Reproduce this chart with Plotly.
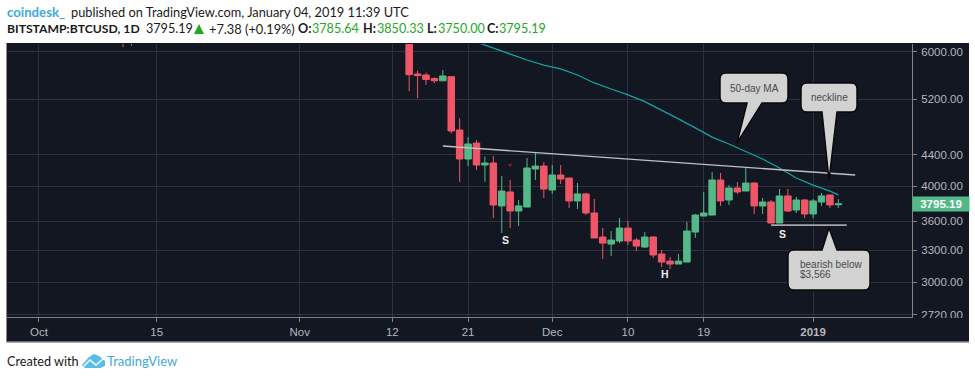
import math
import plotly.graph_objects as go

W, H = 975, 379
L, R, T, B = 7, 912, 44, 317

dates = ["2018-10-11", "2018-10-12",
         "2018-11-14", "2018-11-15", "2018-11-16", "2018-11-17", "2018-11-18", "2018-11-19", "2018-11-20",
         "2018-11-21", "2018-11-22", "2018-11-23", "2018-11-24", "2018-11-25", "2018-11-26", "2018-11-27",
         "2018-11-28", "2018-11-29", "2018-11-30", "2018-12-01", "2018-12-02", "2018-12-03", "2018-12-04",
         "2018-12-05", "2018-12-06", "2018-12-07", "2018-12-08", "2018-12-09", "2018-12-10", "2018-12-11",
         "2018-12-12", "2018-12-13", "2018-12-14", "2018-12-15", "2018-12-16", "2018-12-17", "2018-12-18",
         "2018-12-19", "2018-12-20", "2018-12-21", "2018-12-22", "2018-12-23", "2018-12-24", "2018-12-25",
         "2018-12-26", "2018-12-27", "2018-12-28", "2018-12-29", "2018-12-30", "2018-12-31", "2019-01-01",
         "2019-01-02", "2019-01-03", "2019-01-04"]
opens = [6530, 6200,
         6290, 5611, 5594, 5534, 5497, 5566, 4740, 4344, 4558, 4266, 4292, 3772, 3934, 3715, 3760, 4215, 4253,
         3957, 4140, 4103, 3829, 3911, 3693, 3435, 3363, 3394, 3529, 3404, 3333, 3435, 3264, 3195, 3167, 3186,
         3487, 3659, 3670, 4078, 3840, 3981, 3945, 4041, 3772, 3817, 3583, 3887, 3726, 3840, 3682, 3817, 3899,
         3785.64]
highs = [6550, 6350,
         6310, 5667, 5633, 5556, 5679, 5566, 4911, 4640, 4600, 4375, 4384, 4128, 4078, 3840, 4357, 4423, 4305,
         4266, 4266, 4103, 4041, 3925, 3852, 3529, 3498, 3637, 3604, 3425, 3487, 3445, 3303, 3234, 3264, 3594,
         3682, 3934, 4178, 4166, 4017, 4053, 4240, 4053, 3864, 3840, 3969, 3969, 3876, 3852, 3852, 3922, 3899,
         3850.33]
lows = [6085, 6110,
        5330, 5215, 5428, 5461, 5497, 4690, 4057, 4253, 4203, 4057, 3637, 3477, 3529, 3551, 3760, 4078, 3864,
        3911, 4029, 3749, 3737, 3670, 3425, 3215, 3244, 3373, 3353, 3293, 3323, 3224, 3138, 3120, 3167, 3186,
        3425, 3659, 3670, 3772, 3783, 3911, 3945, 3682, 3682, 3583, 3583, 3704, 3693, 3637, 3637, 3772, 3749,
        3750.00]
closes = [6200, 6250,
          5600, 5583, 5518, 5497, 5577, 4726, 4344, 4545, 4266, 4292, 3783, 3945, 3715, 3772, 4228, 4253, 3969,
          4140, 4090, 3829, 3911, 3693, 3425, 3373, 3404, 3529, 3394, 3343, 3435, 3254, 3186, 3167, 3195, 3498,
          3670, 3693, 4078, 3829, 3981, 3934, 4041, 3772, 3817, 3583, 3887, 3715, 3840, 3682, 3829, 3887, 3783,
          3795.19]

ma_dates = ["2018-11-22", "2018-11-24", "2018-11-26", "2018-11-28", "2018-11-30", "2018-12-02", "2018-12-04",
            "2018-12-06", "2018-12-08", "2018-12-10", "2018-12-12", "2018-12-14", "2018-12-16", "2018-12-18",
            "2018-12-20", "2018-12-22", "2018-12-24", "2018-12-26", "2018-12-28", "2018-12-30", "2019-01-01",
            "2019-01-03", "2019-01-04"]
ma_values = [6176, 6067, 5958, 5852, 5763, 5696, 5594, 5461, 5363, 5270, 5163, 5035, 4902, 4770, 4640, 4545,
             4439, 4344, 4228, 4103, 4017, 3945, 3899]

neck_dates = ["2018-11-18", "2019-01-06"]
neck_values = [4517, 4140]
support_dates = ["2018-12-27", "2019-01-05"]
support_values = [3561, 3561]
dot_dates = ["2018-11-26"]
dot_values = [4266]

price_ticks = [6000, 5200, 4400, 4000, 3600, 3300, 3000, 2720]
price_labels = ["6000.00", "5200.00", "4400.00", "4000.00", "3600.00", "3300.00", "3000.00", "2720.00"]
date_ticks = ["2018-10-01", "2018-10-15", "2018-11-01", "2018-11-12", "2018-11-21", "2018-12-01", "2018-12-10",
              "2018-12-19", "2019-01-01"]
date_labels = ["Oct", "15", "Nov", "12", "21", "Dec", "10", "19", "<b>2019</b>"]

pattern_labels = ["S", "H", "S"]
pattern_dates = ["2018-11-25 10:00", "2018-12-14 10:00", "2018-12-28 10:00"]
pattern_prices = [3400, 3078, 3462]

last_price = closes[-1]

BG = "#131722"
GRID = "#2e323e"
AXIS = "#7f838d"
TICKTXT = "#b4b7bf"
RED = "#f05668"
GREEN = "#53b987"
BLUEBRAND = "#3fa9dc"
QUOTE_GREEN = "#22a822"
INK = "#1a1a1a"
TEXTFONT = "Lato"
AXFONT = "Liberation Sans"


def px(x):
    return (x - L) / (R - L)


def py(y):
    return (B - y) / (B - T)


def path(points_closed, close=True):
    d = "M " + " L ".join(f"{px(x):.5f},{py(y):.5f}" for x, y in points_closed)
    return d + " Z" if close else d


def callout(x0, y0, x1, y1, tail0, tail1, tip):
    """Rounded bubble with a pointed tail; pixel geometry of the drawing annotation."""
    r = 6
    def P(x, y):
        return f"{px(x):.5f},{py(y):.5f}"
    d = f"M {P(x0 + r, y0)} "
    if tip[1] < y0:
        d += f"L {P(tail0, y0)} L {P(tip[0], tip[1])} L {P(tail1, y0)} "
    d += f"L {P(x1 - r, y0)} Q {P(x1, y0)} {P(x1, y0 + r)} L {P(x1, y1 - r)} Q {P(x1, y1)} {P(x1 - r, y1)} "
    if tip[1] > y1:
        d += f"L {P(tail1, y1)} L {P(tip[0], tip[1])} L {P(tail0, y1)} "
    d += f"L {P(x0 + r, y1)} Q {P(x0, y1)} {P(x0, y1 - r)} L {P(x0, y0 + r)} Q {P(x0, y0)} {P(x0 + r, y0)} Z"
    return dict(type="path", xref="paper", yref="paper", path=d, fillcolor="#d2d2d2",
                line=dict(color="#0a0a0a", width=1.5), layer="above")


fig = go.Figure()

fig.add_trace(go.Candlestick(
    x=dates, open=opens, high=highs, low=lows, close=closes,
    increasing=dict(line=dict(color=GREEN, width=1.0), fillcolor=GREEN),
    decreasing=dict(line=dict(color=RED, width=1.0), fillcolor=RED),
    whiskerwidth=0, hoverinfo="skip", showlegend=False))
fig.add_trace(go.Scatter(x=ma_dates, y=ma_values, mode="lines", line=dict(color="#14a3a3", width=1.3),
                         hoverinfo="skip", showlegend=False))
fig.add_trace(go.Scatter(x=neck_dates, y=neck_values, mode="lines", line=dict(color="#c0c0c4", width=1.4),
                         hoverinfo="skip", showlegend=False))
fig.add_trace(go.Scatter(x=support_dates, y=support_values, mode="lines", line=dict(color="#a3a5ab", width=1.8),
                         hoverinfo="skip", showlegend=False))
fig.add_trace(go.Scatter(x=dot_dates, y=dot_values, mode="markers", marker=dict(color="#a8101c", size=3),
                         hoverinfo="skip", showlegend=False))

shapes = [
    dict(type="rect", xref="paper", yref="paper", x0=px(6.5), x1=px(969), y0=py(43), y1=py(342),
         fillcolor=BG, line=dict(width=0), layer="below"),
    dict(type="line", xref="paper", yref="paper", x0=px(6.5), x1=px(969), y0=py(342), y1=py(342),
         line=dict(color="#8a8c92", width=1.5), layer="below"),
    dict(type="line", xref="paper", yref="paper", x0=px(6.5), x1=px(6.5), y0=py(43), y1=py(342),
         line=dict(color="#8a8c92", width=1), layer="below"),
    dict(type="rect", xref="paper", yref="paper", x0=px(913), x1=px(969), y0=py(318), y1=py(326),
         fillcolor=BG, line=dict(width=0), layer="above"),
    callout(720, 73, 788, 103, 747, 762, (737, 143)),
    callout(801, 83, 857, 112, 822, 837, (829, 180)),
    callout(788, 250, 870, 290, 822, 837, (829, 228)),
    dict(type="path", xref="paper", yref="paper", fillcolor="#55bde6", line=dict(width=0), layer="above",
         path=path([(82, 365), (89, 357), (94, 354), (99, 356), (105, 361), (105, 366), (100, 368), (85, 368)])),
    dict(type="path", xref="paper", yref="paper", line=dict(color="white", width=1.4), layer="above",
         path=path([(84, 366), (90, 360), (96, 365), (103, 359)], close=False)),
    dict(type="path", xref="paper", yref="paper", fillcolor=QUOTE_GREEN, line=dict(width=0), layer="above",
         path=path([(194, 34), (199, 24), (204, 34)])),
]

annotations = []


def note(x, y, text, size=11, color="#444", anchor="center", font=AXFONT, valign="middle", **kw):
    annotations.append(dict(xref="paper", yref="paper", x=px(x), y=py(y), text=text, showarrow=False,
                            font=dict(family=font, size=size, color=color), xanchor=anchor, yanchor=valign,
                            align="left" if anchor == "left" else "center", borderpad=0, **kw))


note(754, 88, "50-day MA", 10, "#4a4a4a")
note(829, 97, "neckline", 10, "#4a4a4a")
note(799, 264, "bearish below", 10, "#4a4a4a", "left")
note(799, 274.5, "$3,566", 10, "#4a4a4a", "left")

note(6, 12, "<b>coindesk_</b>", 13.2, BLUEBRAND, "left", TEXTFONT)
note(70, 12, "published on TradingView.com, January 04, 2019 11:39 UTC", 12.8, INK, "left", TEXTFONT)

note(6, 29, "<b>BITSTAMP:BTCUSD, 1D</b>", 12.2, INK, "left", TEXTFONT)
note(145, 29, "3795.19", 12.6, INK, "left", TEXTFONT)
note(208, 29, "+7.38 (+0.19%)", 12.8, INK, "left", TEXTFONT)
for lbl, lx, val, vx in [("O:", 297, "3785.64", 311), ("H:", 362, "3850.33", 376),
                         ("L:", 426, "3750.00", 437), ("C:", 486, "3795.19", 498)]:
    note(lx, 29, f"<b>{lbl}</b>", 12.6, INK, "left", TEXTFONT)
    note(vx, 29, val, 12.6, QUOTE_GREEN, "left", TEXTFONT)

note(6, 361, "Created with", 12.7, INK, "left", TEXTFONT)
note(106, 361, "TradingView", 13, BLUEBRAND, "left", TEXTFONT)

for label, d, p in zip(pattern_labels, pattern_dates, pattern_prices):
    annotations.append(dict(xref="x", yref="y", x=d, y=math.log10(p), text=f"<b>{label}</b>", showarrow=False,
                            font=dict(family=AXFONT, size=10.5, color="#eeeeee")))

annotations.append(dict(xref="paper", yref="y", x=1, y=math.log10(last_price), text=f"<b>{last_price:.2f}</b>",
                        showarrow=False, xanchor="left", yanchor="middle", bgcolor=GREEN, width=56, height=14,
                        font=dict(family=AXFONT, size=11.5, color="#ffffff"), borderpad=0))

fig.update_layout(
    width=W, height=H,
    margin=dict(l=L, r=W - R, t=T, b=H - B, pad=0, autoexpand=False),
    paper_bgcolor="white", plot_bgcolor=BG, boxgap=0.12, boxgroupgap=0.12, hovermode=False, dragmode=False,
    showlegend=False, shapes=shapes, annotations=annotations,
    xaxis=dict(type="date", range=["2018-09-27 05:00", "2019-01-12 18:00"], rangeslider=dict(visible=False),
               tickmode="array", tickvals=date_ticks, ticktext=date_labels,
               showgrid=True, gridcolor=GRID, gridwidth=1, zeroline=False,
               showline=True, linecolor=AXIS, linewidth=1, ticks="outside", ticklen=4, tickcolor=AXIS,
               tickfont=dict(family=AXFONT, size=11.5, color=TICKTXT)),
    yaxis=dict(type="log", side="right",
               range=[math.log10(6000 * math.exp((51.7 - B) / 332.3)), math.log10(6000 * math.exp((51.7 - T) / 332.3))],
               tickmode="array", tickvals=price_ticks, ticktext=price_labels,
               showgrid=True, gridcolor=GRID, gridwidth=1, zeroline=False,
               showline=True, linecolor=AXIS, linewidth=1, ticks="outside", ticklen=4, tickcolor=AXIS,
               ticklabelstandoff=2,
               tickfont=dict(family=AXFONT, size=11.5, color=TICKTXT)),
)

fig.write_html("out.html", config=dict(displayModeBar=False, staticPlot=True),
               post_script="document.body.style.margin='0';document.documentElement.style.overflow='hidden';")
